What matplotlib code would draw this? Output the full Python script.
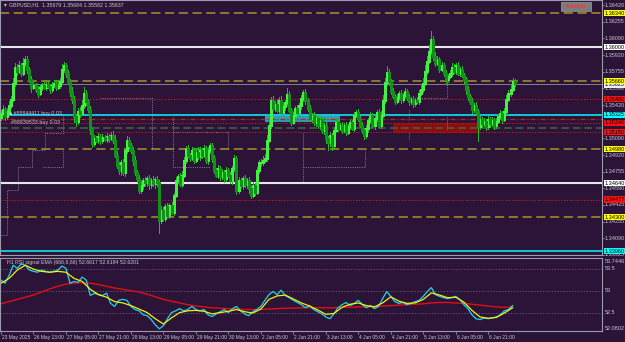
import numpy as np
import matplotlib.pyplot as plt
from matplotlib.patches import Rectangle
import matplotlib.transforms as mtrans

''' data '''
header = 'GBPUSD,H1  1.35679 1.35684 1.35582 1.35637'
rsi_title = 'H1 RSI signal EMA (666,6,66) 52.6617 52.6184 52.6201'

# H1 closes, pips above 1.3000
first_open = 530
close_pips = [534, 538, 531, 536, 542, 548, 564, 580, 576, 582,
              574, 584, 588, 578, 568, 560, 562, 558, 554, 560,
              562, 560, 563, 561, 558, 562, 564, 560, 562, 566,
              578, 582, 574, 566, 556, 548, 531, 526, 536, 534,
              542, 554, 546, 538, 518, 504, 509, 507, 511, 507,
              510, 508, 511, 509, 512, 507, 492, 482, 477, 485,
              475, 497, 507, 502, 497, 487, 475, 469, 457, 462,
              467, 465, 469, 463, 467, 464, 468, 465, 427, 437,
              429, 441, 432, 442, 435, 452, 467, 471, 463, 472,
              487, 499, 492, 489, 497, 487, 495, 491, 497, 492,
              499, 487, 497, 502, 489, 477, 472, 479, 471, 475,
              469, 477, 472, 467, 479, 489, 457, 467, 462, 469,
              463, 467, 459, 452, 462, 455, 477, 485, 485, 487,
              489, 507, 522, 547, 539, 543, 537, 547, 535, 541,
              545, 553, 537, 525, 532, 539, 535, 542, 549, 555,
              547, 539, 529, 532, 525, 529, 522, 527, 517, 522,
              509, 505, 512, 502, 517, 525, 519, 522, 517, 522,
              515, 521, 525, 519, 532, 535, 529, 522, 517, 512,
              519, 527, 532, 522, 529, 535, 522, 532, 547, 565,
              575, 566, 556, 551, 546, 550, 554, 548, 552, 556,
              550, 546, 548, 544, 547, 546, 554, 558, 564, 576,
              586, 596, 608, 591, 584, 588, 578, 582, 574, 568,
              571, 574, 580, 576, 582, 574, 578, 572, 568, 558,
              551, 546, 538, 542, 536, 521, 528, 524, 526, 521,
              528, 524, 527, 522, 526, 531, 534, 528, 536, 548,
              554, 558, 566, 564]
# wick lengths in pips
wick_up = [3, 4, 2, 3, 4, 3, 5, 4, 3, 4, 2, 5, 3, 3, 2, 3, 4, 2, 3, 3,
           2, 3, 2, 3, 2, 3, 3, 2, 4, 3, 5, 3, 2, 3, 2, 4, 3, 2, 3, 4,
           5, 6, 3, 2, 3, 2, 3, 2, 3, 2, 3, 2, 3, 2, 3, 4, 5, 4, 3, 2,
           3, 2, 4, 3, 2, 3, 4, 2, 3, 4, 2, 3, 2, 3, 2, 4, 2, 3, 2, 4,
           3, 2, 3, 2, 3, 2, 3, 2, 3, 4, 3, 2, 3, 2, 3, 2, 4, 5, 3, 2,
           3, 2, 3, 2, 2, 3, 2, 3, 2, 3, 2, 3, 2, 3, 2, 3, 2, 3, 2, 2,
           3, 2, 3, 2, 3, 2, 3, 2, 3, 4, 4, 5, 4, 3, 4, 3, 5, 3, 4, 3,
           2, 6, 3, 2, 3, 2, 3, 2, 3, 2, 3, 2, 3, 2, 3, 2, 3, 2, 3, 2,
           3, 2, 3, 2, 3, 2, 3, 2, 3, 2, 3, 2, 3, 2, 3, 2, 3, 2, 3, 2,
           3, 2, 3, 2, 3, 2, 3, 4, 5, 4, 6, 3, 2, 3, 2, 3, 2, 3, 2, 3,
           2, 3, 2, 3, 2, 3, 3, 4, 5, 6, 5, 6, 8, 3, 4, 3, 2, 3, 2, 3,
           2, 3, 4, 3, 2, 3, 2, 3, 2, 2, 3, 2, 3, 2, 3, 2, 3, 2, 3, 2,
           3, 2, 3, 2, 3, 2, 3, 2, 3, 4, 3, 4, 3, 2]
wick_dn = [3, 2, 4, 3, 2, 3, 2, 3, 4, 2, 3, 2, 3, 4, 3, 5, 2, 3, 4, 2,
           3, 2, 3, 2, 4, 3, 2, 3, 2, 3, 2, 3, 4, 3, 5, 4, 6, 5, 3, 4,
           2, 3, 4, 3, 5, 4, 3, 2, 3, 4, 3, 2, 3, 4, 2, 3, 2, 3, 4, 5,
           3, 4, 3, 4, 3, 5, 3, 4, 3, 3, 4, 3, 4, 5, 4, 3, 5, 4, 13, 3,
           2, 3, 2, 3, 2, 3, 2, 3, 2, 3, 2, 3, 2, 3, 2, 3, 2, 3, 4, 3,
           2, 3, 4, 3, 4, 3, 2, 3, 4, 3, 4, 3, 2, 3, 4, 3, 4, 3, 2, 4,
           3, 4, 5, 3, 2, 3, 2, 3, 4, 3, 2, 3, 2, 3, 2, 3, 2, 3, 2, 3,
           4, 3, 2, 3, 2, 3, 2, 3, 4, 3, 4, 3, 2, 4, 3, 4, 3, 4, 3, 4,
           5, 8, 4, 5, 3, 2, 3, 2, 3, 2, 3, 2, 3, 2, 3, 2, 3, 2, 3, 4,
           3, 4, 3, 2, 4, 3, 2, 3, 2, 3, 3, 4, 3, 2, 3, 2, 3, 4, 3, 2,
           3, 4, 3, 4, 3, 2, 3, 2, 3, 2, 3, 2, 3, 4, 3, 2, 3, 2, 3, 4,
           3, 2, 3, 2, 3, 2, 3, 2, 4, 5, 4, 3, 4, 3, 4, 15, 3, 4, 3, 4,
           3, 4, 3, 4, 3, 2, 3, 4, 2, 3, 2, 3, 2, 3]

time_labels = ['23 May 2025', '26 May 13:00', '27 May 05:00', '27 May 21:00',
               '28 May 13:00', '29 May 05:00', '29 May 21:00', '30 May 13:00',
               '2 Jun 05:00', '2 Jun 21:00', '3 Jun 13:00', '4 Jun 05:00',
               '4 Jun 21:00', '5 Jun 13:00', '6 Jun 05:00', '6 Jun 21:00']
bars_per_label = 16

price_ticks = [1.36420, 1.36255, 1.36090, 1.35920, 1.35755, 1.35590, 1.35420,
               1.35090, 1.34920, 1.34755, 1.34590, 1.34425, 1.34255, 1.34090, 1.33925]

yellow_levels = [1.36340, 1.35660, 1.34980, 1.34300]
white_levels = [1.36000, 1.34640]
red_levels = [1.35480, 1.35246, 1.35150, 1.34477]
cyan_levels = [1.35325, 1.33960]
bid = 1.35637
order_levels = [1.35283, 1.35196]
order_texts = ['#88844411 buy 0.03', '#88839533 buy 0.03']

# zones: (first bar, last bar, low, high)
teal_zone = (130, 167, 1.35250, 1.35330)
red_zone = (193, 236, 1.35143, 1.35243)

# fractal step lines: (bar, price) vertices
fractal_steps = [
    [(0, 1.34123), (3, 1.34123), (3, 1.34573), (8.4, 1.34573), (8.4, 1.34803),
     (15.3, 1.34803), (15.3, 1.34973), (21.7, 1.34973), (21.7, 1.35143),
     (30.5, 1.35143), (30.5, 1.35323)],
    [(20.7, 1.34803), (30.5, 1.34803), (30.5, 1.34973)],
    [(48.8, 1.35493), (74.4, 1.35493), (74.4, 1.34973)],
    [(84.7, 1.35303), (84.7, 1.34803), (103, 1.34803)],
    [(84.7, 1.35153), (111.8, 1.35153), (111.8, 1.34973)],
    [(148.8, 1.35143), (148.8, 1.34653)],
    [(148.8, 1.34803), (179.3, 1.34803), (179.3, 1.34973)],
    [(201, 1.35373), (201, 1.35273)],
    [(201, 1.35143), (201, 1.35073)],
    [(204.9, 1.35493), (219.7, 1.35493), (219.7, 1.35703)],
    [(219.7, 1.35303), (219.7, 1.35173)],
]

# RSI pane
rsi_cyan = [53.24, 53.17, 53.35, 53.58, 53.51, 53.61, 53.58, 53.47, 53.44, 53.42,
            53.47, 53.44, 53.42, 53.44, 53.47, 53.56, 53.51, 53.17, 53.21, 53.19,
            53.31, 53.24, 52.89, 52.94, 52.91, 52.89, 52.94, 52.71, 52.64, 52.78,
            52.80, 52.78, 52.64, 52.57, 52.54, 52.45, 52.43, 52.34, 52.22, 52.13,
            52.20, 52.36, 52.50, 52.54, 52.59, 52.54, 52.57, 52.64, 52.57, 52.54,
            52.57, 52.45, 52.41, 52.47, 52.52, 52.57, 52.50, 52.59, 52.64, 52.54,
            52.47, 52.43, 52.52, 52.57, 52.64, 52.78, 52.91, 52.98, 52.91, 53.01,
            52.89, 52.84, 52.78, 52.73, 52.68, 52.61, 52.66, 52.57, 52.52, 52.47,
            52.40, 52.36, 52.47, 52.61, 52.68, 52.73, 52.66, 52.71, 52.78, 52.68,
            52.61, 52.66, 52.59, 52.64, 52.82, 52.98, 52.87, 52.75, 52.71, 52.73,
            52.68, 52.71, 52.75, 52.78, 52.87, 52.98, 53.07, 52.91, 52.87, 52.84,
            52.82, 52.84, 52.87, 52.80, 52.68, 52.59, 52.45, 52.36, 52.34, 52.38,
            52.36, 52.38, 52.40, 52.45, 52.54, 52.57, 52.66]
rsi_yellow = [53.17, 53.28, 53.47, 53.58, 53.49, 53.44, 53.42, 53.44, 53.42, 53.28,
              53.21, 53.03, 52.91, 52.85, 52.75, 52.72, 52.66, 52.58, 52.50, 52.36,
              52.24, 52.38, 52.50, 52.54, 52.55, 52.53, 52.47, 52.50, 52.53, 52.57,
              52.52, 52.49, 52.58, 52.80, 52.88, 52.90, 52.81, 52.72, 52.65, 52.56,
              52.46, 52.48, 52.62, 52.69, 52.72, 52.66, 52.63, 52.72, 52.86, 52.76,
              52.71, 52.72, 52.80, 52.95, 52.90, 52.84, 52.85, 52.74, 52.55, 52.40,
              52.37, 52.39, 52.49, 52.61]
rsi_red = [52.70, 52.75, 52.80, 52.85, 52.90, 52.97, 53.04, 53.10, 53.15, 53.17,
           53.18, 53.17, 53.14, 53.10, 53.06, 53.03, 53.00, 52.97, 52.92, 52.86,
           52.80, 52.76, 52.72, 52.68, 52.65, 52.63, 52.61, 52.60, 52.59, 52.58,
           52.57, 52.57, 52.57, 52.58, 52.59, 52.60, 52.60, 52.61, 52.61, 52.61,
           52.61, 52.61, 52.62, 52.62, 52.63, 52.63, 52.64, 52.65, 52.66, 52.67,
           52.68, 52.69, 52.70, 52.72, 52.73, 52.73, 52.72, 52.71, 52.69, 52.67,
           52.65, 52.63, 52.62, 52.62]
rsi_levels = [53.5, 53.0, 52.5]
rsi_min, rsi_max = 52.0802, 53.7446

''' colours '''
bg = '#2c1338'
txt = '#c8c8d0'
frame = '#9c9cac'

''' figure & axes '''
W, H = 625, 342
fig = plt.figure(figsize=(W/100, H/100), dpi=100, facecolor=bg)
ax = fig.add_axes([0, 1-255/H, 602/W, 255/H], facecolor=bg)
ax2 = fig.add_axes([0, 1-331/H, 602/W, 73/H], facecolor=bg)

px_per_bar = 2.03
xlim = (-1/px_per_bar, 601/px_per_bar)
for a in (ax, ax2):
    a.set_xlim(xlim)
    a.set_xticks([])
    a.set_yticks([])
    for s in a.spines.values():
        s.set_color(frame)
        s.set_linewidth(0.8)
ax.set_ylim(1.36473 - 0.0255, 1.36473)
ax2.set_ylim(rsi_min, rsi_max)

''' candles '''
closes = 1.3 + np.array(close_pips)/10000
opens = np.r_[1.3 + first_open/10000, closes[:-1]]
highs = np.maximum(opens, closes) + np.array(wick_up)/10000
lows = np.minimum(opens, closes) - np.array(wick_dn)/10000
x = np.arange(len(closes))

# zones under everything
for z, c in ((teal_zone, '#2f9fb0'), (red_zone, '#8c0d0d')):
    ax.add_patch(Rectangle((z[0], z[2]), z[1]-z[0], z[3]-z[2], fc=c, ec='none', zorder=1))

# fractal steps
for seg in fractal_steps:
    sx, sy = zip(*seg)
    ax.plot(sx, sy, color='#8c7c9c', lw=0.7, dashes=(1, 1.3), zorder=2)

# levels
for p in yellow_levels:
    ax.axhline(p, color='#a8922e', lw=1.1, dashes=(6, 3), zorder=2)
for p in white_levels:
    ax.axhline(p, color='#e6e6ea', lw=1.5, zorder=2)
for p in red_levels:
    ax.axhline(p, color='#d41a1a', lw=0.8, dashes=(1, 1.6), zorder=2)
for p in cyan_levels:
    ax.axhline(p, color='#10c8d8', lw=1.4, zorder=2)
ax.axhline(order_levels[0], color='#b02a1c', lw=0.9, dashes=(4, 1.5, 1, 1.5), zorder=2)
ax.axhline(order_levels[1], color='#3e6a46', lw=1.1, dashes=(5, 2.5), zorder=2)
ax.axhline(bid, color='#9090a4', lw=0.6, zorder=2)

bull = closes >= opens
top = np.maximum(opens, closes)
bot = np.minimum(opens, closes) - 0.00004
ax.vlines(x, lows, highs, color='#22b822', lw=0.6, zorder=3, antialiased=False)
ax.vlines(x[bull], bot[bull], top[bull], color='#44f044', lw=0.95, zorder=4, antialiased=False)
ax.vlines(x[~bull], bot[~bull], top[~bull], color='#11901a', lw=0.95, zorder=4, antialiased=False)

''' right axis labels '''
yt = ax.get_yaxis_transform()
lab = dict(transform=yt, fontsize=4.0, va='center', ha='left', clip_on=False,
           family='Liberation Sans')
for p in price_ticks:
    ax.text(1.004, p, '%.5f' % p, color=txt, **lab)
    ax.plot([1.0, 1.003], [p, p], transform=yt, color=frame, lw=0.5, clip_on=False)

def tag(p, fc):
    ax.text(1.004, p, '%.5f' % p, color='black',
            bbox=dict(boxstyle='square,pad=0.12', fc=fc, ec='none'), **lab)

tag(bid - 0.00012, '#f0f0f0')
for p in yellow_levels:
    tag(p, '#ffff00')
for p in white_levels:
    tag(p, '#ffffff')
for p in red_levels:
    tag(p, '#ff1010')
for p in cyan_levels:
    tag(p, '#00ffff')

''' order texts '''
ax.text(4, order_levels[0] + 0.00035, '\u25a0 ' + order_texts[0], color=txt, fontsize=3.8,
        va='bottom', family='Liberation Sans', zorder=6)
ax.text(5, order_levels[1] + 0.00025, order_texts[1], color=txt, fontsize=3.8,
        va='bottom', family='Liberation Sans', zorder=6)

''' RSI pane '''
for lv in rsi_levels:
    ax2.axhline(lv, color='#6e5e80', lw=0.6, dashes=(1.5, 2))
ax2.plot(np.arange(len(rsi_red))*4, rsi_red, color='#e01010', lw=1.0)
ax2.plot(np.arange(len(rsi_cyan))*2, rsi_cyan, color='#18d8e8', lw=0.9)
ax2.plot(np.arange(len(rsi_yellow))*4, rsi_yellow, color='#f0f010', lw=0.9)
yt2 = ax2.get_yaxis_transform()
for lv, s in [(rsi_max - 0.09, '53.7446'), (53.5, '53.5'), (53.0, '53'), (52.5, '52.5'),
              (rsi_min + 0.06, '52.0802')]:
    ax2.text(1.004, lv, s, color=txt, transform=yt2, fontsize=4.0, va='center',
             ha='left', clip_on=False, family='Liberation Sans')
ax2.text(3, rsi_max - 0.1, rsi_title, color=txt, fontsize=3.8, va='center',
         family='Liberation Sans')

''' time axis '''
xt = mtrans.blended_transform_factory(ax2.transData, ax2.transAxes)
for k, s in enumerate(time_labels):
    i = k*bars_per_label
    ax2.plot([i, i], [0, -0.04], transform=xt, color=frame, lw=0.5, clip_on=False)
    ax2.text(i + 0.4, -0.05, s, transform=xt, color=txt, fontsize=3.5, va='top',
             ha='left', clip_on=False, family='Liberation Sans')

''' header & button '''
fig.text(4/W, 1-5/H, '\u25be', color=txt, fontsize=4, va='center')
fig.text(9/W, 1-5/H, header, color=txt, fontsize=3.8, va='center', family='Liberation Sans')
fig.patches.append(Rectangle((561/W, 1-11/H), 30/W, 9/H, transform=fig.transFigure,
                             fc='#7c7c7c', ec='#9a9a9a', lw=0.5))
fig.text(576/W, 1-6.5/H, 'fractal', color='#ff2a2a', fontsize=4.5, ha='center', va='center')

fig.savefig('out.png', dpi=100, facecolor=bg)
